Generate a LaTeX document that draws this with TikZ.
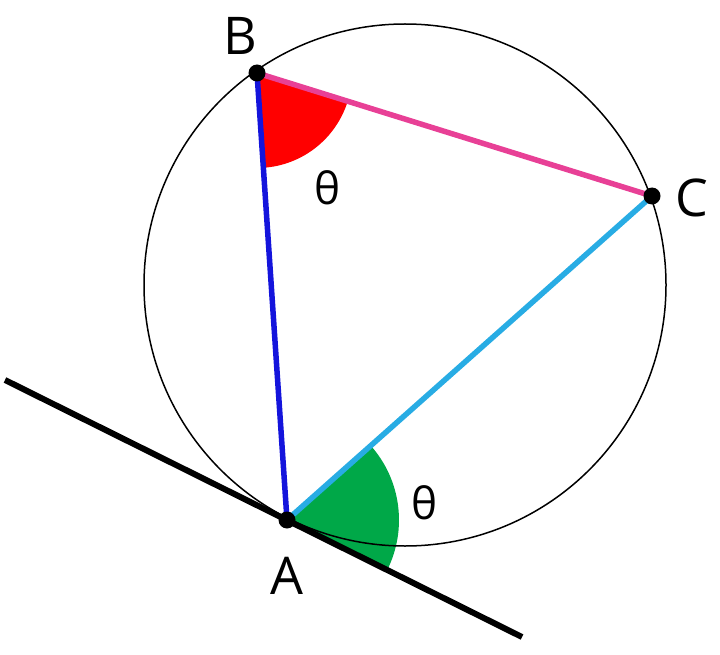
\documentclass[tikz,border=0pt]{standalone}
\usepackage{fontspec}
\setmainfont{Open Sans}
\definecolor{sideBA}{RGB}{20,20,220}
\definecolor{sideBC}{RGB}{232,64,150}
\definecolor{sideAC}{RGB}{40,172,228}
\definecolor{angA}{RGB}{0,168,72}
\begin{document}
\begin{tikzpicture}[x=1pt,y=-1pt]
 \tikzset{side/.style={line width=5.5pt},
   dot/.style={circle, fill=black, inner sep=0pt, minimum size=17pt},
   lbl/.style={font=\fontsize{52}{52}\selectfont},
   thlbl/.style={font=\fontsize{44}{44}\selectfont}}
  \useasboundingbox (0,0) rectangle (720,655);
  \coordinate (O) at (405,285);
  \coordinate (A) at (287,520);
  \coordinate (B) at (257,73);
  \coordinate (C) at (652,196);
  \coordinate (T1) at (5,380);
  \coordinate (T2) at (522,637);
  % angles
  \fill[red] (B) -- ++(86.2:95) arc[start angle=86.2, end angle=17.3, radius=95] -- cycle;
  \fill[angA] (A) -- ++(26.7:112) arc[start angle=26.7, end angle=-41.6, radius=112] -- cycle;
  \draw[line width=1.5pt] (O) circle[radius=261];
  \draw[line width=6pt] (T1) -- (T2);
  \draw[side, sideBA] (B) -- (A);
  \draw[side, sideBC] (B) -- (C);
  \draw[side, sideAC] (A) -- (C);
  \node[dot] (nA) at (A) {};
  \node[dot] (nB) at (B) {};
  \node[dot] (nC) at (C) {};
  \node[lbl] (lA) at (287,576) {A};
  \node[lbl] (lB) at (240,36) {B};
  \node[lbl] (lC) at (692,198) {C};
  \node[thlbl] (tB) at (328,188) {θ};
  \node[thlbl] (tA) at (425,503) {θ};
\end{tikzpicture}
\end{document}
